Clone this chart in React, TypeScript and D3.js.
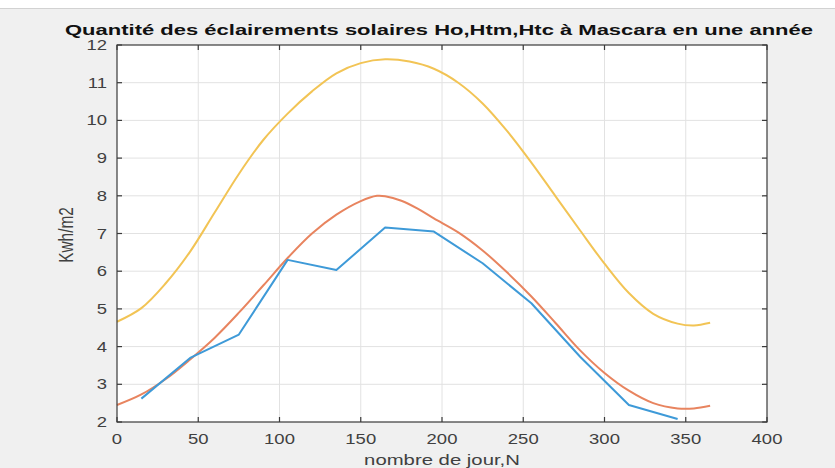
import React from "react";
import * as d3 from "d3";

// Daily solar irradiation over one year (kWh/m2) at Mascara
const hoDays = [0, 15, 30, 45, 60, 75, 90, 105, 120, 135, 150, 165, 180, 195, 210, 225, 240, 255, 270, 285, 300, 315, 330, 345, 355, 365];
const hoValues = [4.66, 5.02, 5.68, 6.52, 7.55, 8.58, 9.48, 10.18, 10.77, 11.25, 11.52, 11.62, 11.56, 11.37, 11.0, 10.45, 9.72, 8.88, 7.98, 7.08, 6.2, 5.42, 4.87, 4.61, 4.56, 4.63];

const htcDays = [0, 15, 30, 45, 60, 75, 90, 105, 120, 135, 150, 160, 165, 175, 185, 195, 210, 225, 240, 255, 270, 285, 300, 315, 330, 345, 355, 365];
const htcValues = [2.45, 2.73, 3.14, 3.66, 4.23, 4.9, 5.62, 6.35, 7.0, 7.5, 7.86, 8.0, 7.99, 7.87, 7.66, 7.4, 7.03, 6.55, 5.97, 5.33, 4.62, 3.9, 3.3, 2.83, 2.5, 2.36, 2.36, 2.43];

const htmDays = [15, 45, 75, 105, 135, 165, 195, 225, 255, 285, 315, 345];
const htmValues = [2.62, 3.7, 4.32, 6.3, 6.03, 7.16, 7.05, 6.21, 5.15, 3.73, 2.45, 2.08];

const xTicks = [0, 50, 100, 150, 200, 250, 300, 350, 400];
const yTicks = [2, 3, 4, 5, 6, 7, 8, 9, 10, 11, 12];

const titleText = "Quantité des éclairements solaires Ho,Htm,Htc à Mascara en une année";
const xLabel = "nombre de jour,N";
const yLabel = "Kwh/m2";

const W = 835;
const H = 468;
const left = 117;
const right = 767;
const top = 45;
const bottom = 422;
const sx = 1.32; // horizontal glyph stretch
const font = "'Liberation Sans', Arial, Helvetica, sans-serif";
const axisColor = "#3a3a3a";
const textColor = "#404040";

export default function App() {
  const x = d3.scaleLinear().domain([0, 400]).range([left, right]);
  const y = d3.scaleLinear().domain([2, 12]).range([bottom, top]);

  const smooth = d3
    .line<[number, number]>()
    .x((d) => x(d[0]))
    .y((d) => y(d[1]))
    .curve(d3.curveCatmullRom.alpha(0.5));
  const straight = d3
    .line<[number, number]>()
    .x((d) => x(d[0]))
    .y((d) => y(d[1]));

  const ho = hoDays.map((d, i) => [d, hoValues[i]] as [number, number]);
  const htc = htcDays.map((d, i) => [d, htcValues[i]] as [number, number]);
  const htm = htmDays.map((d, i) => [d, htmValues[i]] as [number, number]);

  const tickLen = 5;

  return (
    <svg
      width={W}
      height={H}
      viewBox={`0 0 ${W} ${H}`}
      style={{ position: "absolute", left: 0, top: 0, display: "block" }}
    >
      <rect x={0} y={0} width={W} height={H} fill="#f0f0f0" />
      <rect x={0} y={0} width={W} height={8} fill="#ffffff" />
      <line x1={0} x2={W} y1={8.5} y2={8.5} stroke="#d2d2d2" strokeWidth={1} />

      {/* plot area */}
      <rect x={left} y={top} width={right - left} height={bottom - top} fill="#ffffff" />

      {/* grid */}
      <g stroke="#e2e2e2" strokeWidth={1}>
        {xTicks.slice(1, -1).map((t) => (
          <line key={"gx" + t} x1={x(t)} x2={x(t)} y1={top} y2={bottom} />
        ))}
        {yTicks.slice(1, -1).map((t) => (
          <line key={"gy" + t} x1={left} x2={right} y1={y(t)} y2={y(t)} />
        ))}
      </g>

      {/* series */}
      <path d={smooth(ho) || ""} fill="none" stroke="#f2c455" strokeWidth={2} />
      <path d={smooth(htc) || ""} fill="none" stroke="#e8845f" strokeWidth={2} />
      <path d={straight(htm) || ""} fill="none" stroke="#3e9ad8" strokeWidth={2} strokeLinejoin="round" />

      {/* axes box and ticks */}
      <rect x={left} y={top} width={right - left} height={bottom - top} fill="none" stroke={axisColor} strokeWidth={1.2} />
      <g stroke={axisColor} strokeWidth={1.2}>
        {xTicks.map((t) => (
          <g key={"tx" + t}>
            <line x1={x(t)} x2={x(t)} y1={bottom} y2={bottom - tickLen} />
            <line x1={x(t)} x2={x(t)} y1={top} y2={top + tickLen} />
          </g>
        ))}
        {yTicks.map((t) => (
          <g key={"ty" + t}>
            <line x1={left} x2={left + tickLen} y1={y(t)} y2={y(t)} />
            <line x1={right} x2={right - tickLen} y1={y(t)} y2={y(t)} />
          </g>
        ))}
      </g>

      {/* tick labels */}
      <g fontFamily={font} fontSize={14} fill={textColor}>
        {xTicks.map((t) => (
          <text key={"lx" + t} transform={`translate(${x(t)},444) scale(${sx},1)`} textAnchor="middle">
            {t}
          </text>
        ))}
        {yTicks.map((t) => (
          <text key={"ly" + t} transform={`translate(107,${y(t) + 5}) scale(${sx},1)`} textAnchor="end">
            {t}
          </text>
        ))}
      </g>

      {/* axis labels */}
      <text
        transform={`translate(442,465) scale(${sx},1)`}
        textAnchor="middle"
        fontFamily={font}
        fontSize={15.4}
        fill={textColor}
      >
        {xLabel}
      </text>
      <text
        transform={`translate(73,235) scale(${sx},1) rotate(-90)`}
        textAnchor="middle"
        fontFamily={font}
        fontSize={15.4}
        fill={textColor}
      >
        {yLabel}
      </text>

      {/* title */}
      <text
        x={65}
        y={35}
        textLength={748}
        lengthAdjust="spacingAndGlyphs"
        fontFamily={font}
        fontSize={15.4}
        fontWeight="bold"
        fill="#111111"
      >
        {titleText}
      </text>
    </svg>
  );
}
